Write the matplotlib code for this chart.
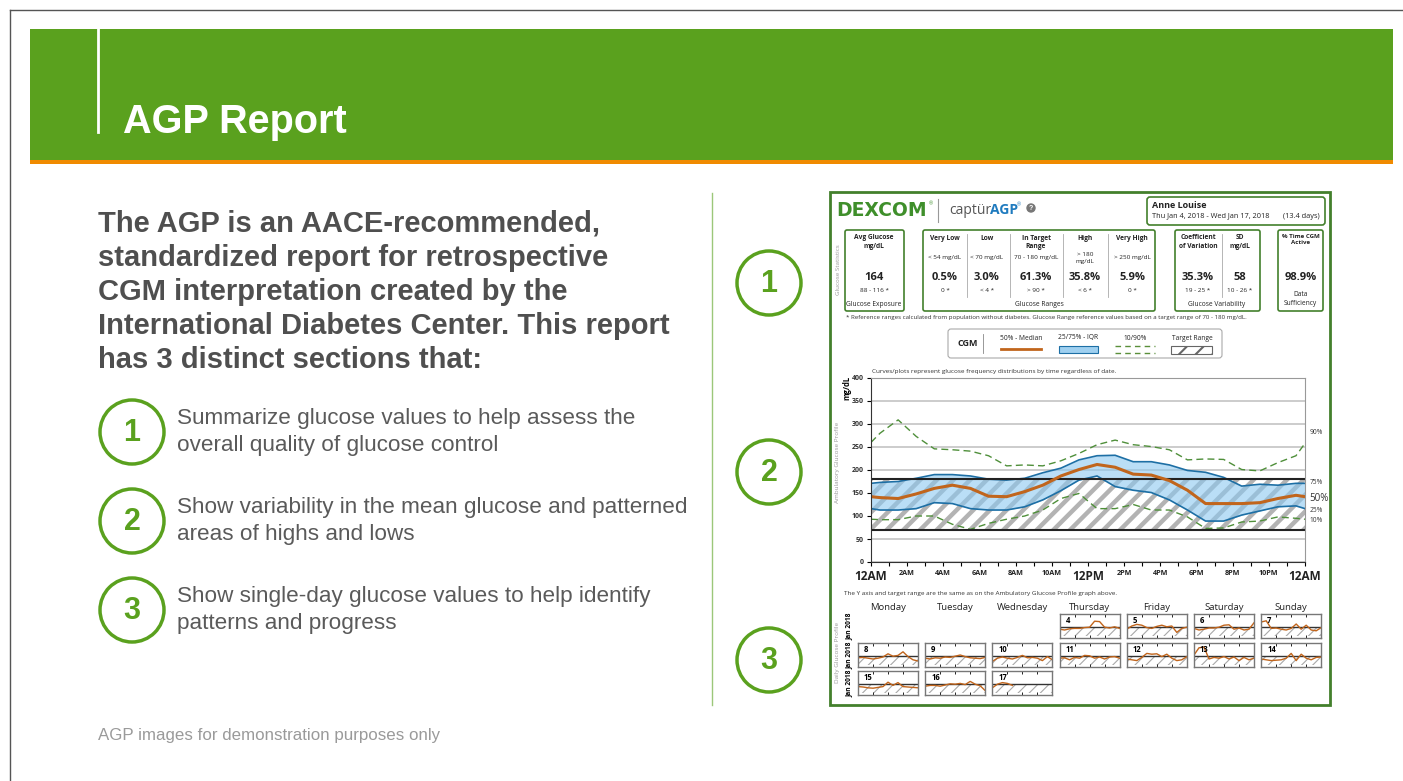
import matplotlib.pyplot as plt
from matplotlib.patches import Rectangle, Circle, FancyBboxPatch
import numpy as np

W, H = 1403, 781
plt.rcParams['hatch.linewidth'] = 3.0
plt.rcParams['font.family'] = ['Liberation Sans', 'DejaVu Sans']

GREEN = '#5aa11e'
DKGREEN = '#43802c'
ORANGE = '#c1651c'
BLUE = '#1d6fa5'
RPT = 'Open Sans'

# ---- data ----
hours = [0] + [h + 0.5 for h in range(24)] + [24]
p50 = [142, 140, 138, 148, 160, 167, 160, 143, 142, 153, 167, 187, 201,
       212, 206, 191, 189, 177, 156, 127, 127, 127, 129, 138, 145, 142]
p75 = [171, 173, 175, 182, 190, 190, 187, 180, 178, 182, 194, 204, 222,
       231, 232, 218, 218, 211, 199, 195, 184, 165, 169, 167, 171, 171]
p25 = [116, 113, 113, 116, 129, 127, 116, 113, 113, 120, 135, 155, 178,
       187, 164, 156, 151, 135, 113, 89, 89, 102, 111, 120, 122, 116]
p90 = [260, 280, 309, 273, 246, 244, 241, 231, 209, 211, 209, 220, 236,
       255, 265, 255, 251, 244, 222, 224, 223, 201, 198, 216, 231, 258]
p10 = [93, 92, 92, 100, 100, 82, 71, 84, 93, 100, 113, 138, 149,
       116, 116, 125, 113, 113, 98, 73, 74, 87, 89, 98, 95, 93]
target_low, target_high = 70, 180
pct_label_pos = {'90%': 282, '75%': 172, '50%': 138, '25%': 113, '10%': 91}

range_names = ['Very Low', 'Low', 'In Target\nRange', 'High', 'Very High']
range_limits = ['< 54 mg/dL', '< 70 mg/dL', '70 - 180 mg/dL', '> 180\nmg/dL', '> 250 mg/dL']
range_pcts = [0.5, 3.0, 61.3, 35.8, 5.9]
range_refs = ['0 *', '< 4 *', '> 90 *', '< 6 *', '0 *']
avg_glucose, avg_ref = 164, '88 - 116 *'
cv, cv_ref = 35.3, '19 - 25 *'
sd, sd_ref = 58, '10 - 26 *'
cgm_active = 98.9

weekdays = ['Monday', 'Tuesday', 'Wednesday', 'Thursday', 'Friday', 'Saturday', 'Sunday']
day_hours = list(range(0, 25, 2))
daily = {
    4: [150, 140, 155, 160, 160, 170, 175, 250, 245, 175, 165, 180, 160],
    5: [150, 190, 210, 200, 170, 160, 185, 200, 180, 190, 110, 160, 175],
    6: [160, 140, 150, 165, 165, 175, 200, 205, 150, 165, 140, 150, 230],
    7: [240, 255, 160, 165, 150, 140, 160, 215, 150, 200, 140, 130, 170],
    8: [155, 160, 150, 140, 150, 165, 205, 175, 185, 230, 170, 130, 115],
    9: [150, 140, 155, 150, 165, 160, 175, 190, 170, 155, 150, 145, 160],
    10: [110, 150, 165, 150, 140, 160, 185, 155, 160, 150, 120, 170, 130],
    11: [150, 155, 130, 160, 150, 185, 180, 150, 165, 140, 165, 170, 150],
    12: [140, 130, 120, 160, 210, 200, 205, 170, 200, 150, 120, 130, 170],
    13: [190, 280, 290, 140, 160, 150, 170, 140, 165, 120, 160, 130, 150],
    14: [140, 130, 120, 125, 130, 150, 210, 120, 200, 150, 130, 160, 165],
    15: [145, 140, 130, 125, 135, 145, 200, 160, 195, 145, 140, 135, 130],
    16: [150, 160, 160, 150, 165, 180, 175, 185, 170, 210, 175, 155, 95],
    17: [130, 175, 195, 185, 160],
}

para_lines = ["The AGP is an AACE-recommended,",
              "standardized report for retrospective",
              "CGM interpretation created by the",
              "International Diabetes Center. This report",
              "has 3 distinct sections that:"]
bullets = [["Summarize glucose values to help assess the", "overall quality of glucose control"],
           ["Show variability in the mean glucose and patterned", "areas of highs and lows"],
           ["Show single-day glucose values to help identify", "patterns and progress"]]


def frame(x0, y0, x1, y1):
    return [x0 / W, 1 - y1 / H, (x1 - x0) / W, (y1 - y0) / H]


fig = plt.figure(figsize=(W / 100, H / 100), dpi=100)
bg = fig.add_axes([0, 0, 1, 1])
bg.set_xlim(0, W)
bg.set_ylim(H, 0)
bg.axis('off')

# slide frame + banner
bg.plot([10, W], [10, 10], color='#555555', lw=1)
bg.plot([10, 10], [10, H], color='#555555', lw=1)
bg.add_patch(Rectangle((30, 29), 1363, 131, color=GREEN, lw=0))
bg.add_patch(Rectangle((30, 160), 1363, 4, color='#f08a00', lw=0))
bg.plot([98, 98], [29, 132], color='white', lw=2)
bg.text(123, 133, 'AGP Report', color='white', fontsize=28.5, weight='bold', va='baseline')

for i, line in enumerate(para_lines):
    bg.text(98, 232 + 34 * i, line, color='#4f4f4f', fontsize=21, weight='bold', va='baseline')

for i, (l1, l2) in enumerate(bullets):
    cy = 432 + 89 * i
    bg.add_patch(Circle((132, cy), 32, fill=False, ec=GREEN, lw=2.5))
    bg.text(132, cy + 1, str(i + 1), color=GREEN, fontsize=22, weight='bold', ha='center', va='center')
    bg.text(177, cy - 8, l1, color='#5a5a5a', fontsize=16.2, va='baseline')
    bg.text(177, cy + 19, l2, color='#5a5a5a', fontsize=16.2, va='baseline')

bg.text(98, 740, 'AGP images for demonstration purposes only', color='#9a9a9a', fontsize=12.2, va='baseline')
bg.plot([712, 712], [193, 705], color='#9cc77a', lw=1)
for i, cy in enumerate([283, 472, 660]):
    bg.add_patch(Circle((769, cy), 32, fill=False, ec=GREEN, lw=2.5))
    bg.text(769, cy + 1, str(i + 1), color=GREEN, fontsize=22, weight='bold', ha='center', va='center')

# ---- AGP report image ----
bg.add_patch(Rectangle((830, 192), 500, 513, fill=False, ec=DKGREEN, lw=2))
bg.text(836, 210, 'DEXCOM', color='#3f8f2b', fontsize=13.5, weight='heavy', va='center', family='DejaVu Sans')
bg.text(929, 204, '®', color='#3f8f2b', fontsize=4, va='center')
bg.plot([938, 938], [199, 222], color='#999999', lw=0.8)
bg.text(949, 210, 'captür', color='#555555', fontsize=10, va='center', family=RPT)
bg.text(990, 210, 'AGP', color='#1f7bbf', fontsize=10, weight='bold', va='center', family=RPT)
bg.text(1017, 205, '®', color='#1f7bbf', fontsize=4, va='center')
bg.add_patch(Circle((1031, 208), 4, color='#777777'))
bg.text(1031, 208.5, '?', color='white', fontsize=5, weight='bold', ha='center', va='center')

bg.add_patch(FancyBboxPatch((1147, 197), 178, 28, boxstyle='round,pad=0,rounding_size=3',
                            fill=False, ec=DKGREEN, lw=1.2))
bg.text(1152, 205, 'Anne Louise', fontsize=6.5, weight='bold', va='center', family=RPT, color='#222222')
bg.text(1152, 216, 'Thu Jan 4, 2018 - Wed Jan 17, 2018', fontsize=5.3, va='center', family=RPT, color='#222222')
bg.text(1320, 216, '(13.4 days)', fontsize=5.3, va='center', ha='right', family=RPT, color='#222222')

for x0, x1 in [(845, 904), (923, 1155), (1175, 1260), (1278, 1323)]:
    bg.add_patch(FancyBboxPatch((x0, 230), x1 - x0, 81, boxstyle='round,pad=0,rounding_size=2',
                                fill=False, ec=DKGREEN, lw=1.2))

txt = dict(family=RPT, color='#222222', ha='center')
bg.text(838, 270, 'Glucose Statistics', rotation=90, fontsize=4.5, color='#999999', ha='center', va='center', family=RPT)
bg.text(874, 234, 'Avg Glucose\nmg/dL', fontsize=4.8, weight='bold', va='top', linespacing=1.3, **txt)
bg.text(874, 277, str(avg_glucose), fontsize=8, weight='bold', va='center', **txt)
bg.text(874, 290, avg_ref, fontsize=4.6, va='center', **txt)
bg.text(874, 304, 'Glucose Exposure', fontsize=4.8, va='center', **txt)

col_x = [945, 987, 1036, 1085, 1132]
for cx, nm, lim, pc, rf in zip(col_x, range_names, range_limits, range_pcts, range_refs):
    bg.text(cx, 235, nm, fontsize=4.8, weight='bold', va='top', linespacing=1.3, **txt)
    bg.text(cx, 258, lim, fontsize=4.6, va='center', linespacing=1.3, **txt)
    bg.text(cx, 278, f'{pc:.1f}%', fontsize=8, weight='bold', va='center', **txt)
    bg.text(cx, 290, rf, fontsize=4.6, va='center', **txt)
for dx in [967, 1010, 1063, 1108]:
    bg.plot([dx, dx], [234, 297], color='#aaaaaa', lw=0.6)
bg.text(1039, 305, 'Glucose Ranges', fontsize=4.8, va='center', **txt)

bg.text(1198, 234, 'Coefficient\nof Variation', fontsize=4.8, weight='bold', va='top', linespacing=1.3, **txt)
bg.text(1240, 234, 'SD\nmg/dL', fontsize=4.8, weight='bold', va='top', linespacing=1.3, **txt)
bg.text(1198, 278, f'{cv:.1f}%', fontsize=8, weight='bold', va='center', **txt)
bg.text(1240, 278, str(sd), fontsize=8, weight='bold', va='center', **txt)
bg.text(1198, 290, cv_ref, fontsize=4.6, va='center', **txt)
bg.text(1240, 290, sd_ref, fontsize=4.6, va='center', **txt)
bg.plot([1222, 1222], [234, 297], color='#aaaaaa', lw=0.6)
bg.text(1217, 305, 'Glucose Variability', fontsize=4.8, va='center', **txt)

bg.text(1300.5, 234, '% Time CGM\nActive', fontsize=4.4, weight='bold', va='top', linespacing=1.3, **txt)
bg.text(1300.5, 278, f'{cgm_active:.1f}%', fontsize=8, weight='bold', va='center', **txt)
bg.text(1300.5, 299, 'Data\nSufficiency', fontsize=4.8, va='center', linespacing=1.3, **txt)

bg.text(846, 317, '* Reference ranges calculated from population without diabetes. Glucose Range reference values '
        'based on a target range of 70 - 180 mg/dL.', fontsize=4.4, va='center', family=RPT, color='#333333')

# legend box
bg.add_patch(FancyBboxPatch((948, 329), 274, 29, boxstyle='round,pad=0,rounding_size=3',
                            fill=False, ec='#aaaaaa', lw=0.8))
bg.text(957, 343, 'CGM', fontsize=6.5, weight='bold', va='center', family=RPT, color='#222222')
bg.plot([983, 983], [334, 353], color='#888888', lw=0.6)
for cx, lab in [(1021, '50% - Median'), (1078, '25/75% - IQR'), (1135, '10/90%'), (1192, 'Target Range')]:
    bg.text(cx, 338, lab, fontsize=4.8, va='center', **txt)
bg.plot([1001, 1041], [349, 349], color=ORANGE, lw=2)
bg.add_patch(Rectangle((1059, 346), 39, 7, fc='#9fd0f0', ec=BLUE, lw=0.8))
bg.plot([1115, 1155], [346, 346], color='#5a8f3a', lw=1, dashes=(4, 3))
bg.plot([1115, 1155], [353, 353], color='#5a8f3a', lw=1, dashes=(4, 3))
leg_t = Rectangle((1171, 346), 41, 8, fc='white', ec='#666666', hatch='//', lw=0.8)
bg.add_patch(leg_t)
if hasattr(leg_t, 'set_hatch_linewidth'):
    leg_t.set_hatch_linewidth(1.5)

bg.text(872, 371, 'Curves/plots represent glucose frequency distributions by time regardless of date.',
        fontsize=4.6, va='center', family=RPT, color='#333333')
bg.text(847, 388, 'mg/dL', rotation=90, fontsize=5.5, weight='bold', ha='center', va='center', family=RPT)
bg.text(838, 462, 'Ambulatory Glucose Profile', rotation=90, fontsize=4.6, color='#999999',
        ha='center', va='center', family=RPT)

# main AGP chart
ax = fig.add_axes(frame(871, 378, 1305, 562))
ax.set_xlim(0, 24)
ax.set_ylim(0, 400)
ax.set_axisbelow(True)
ax.yaxis.grid(True, color='#c4c4c4', lw=1.2)
tgt = ax.fill_between([0, 24], target_low, target_high, facecolor='white', edgecolor='#b3b3b3',
                      hatch='//', lw=0)
if hasattr(tgt, 'set_hatch_linewidth'):
    tgt.set_hatch_linewidth(3.2)
ax.fill_between(hours, p25, p75, color='#8cc8f0', alpha=0.6, lw=0)
ax.plot(hours, p75, color=BLUE, lw=1.2)
ax.plot(hours, p25, color=BLUE, lw=1.2)
ax.plot(hours, p90, color='#4f8f3a', lw=1, dashes=(5, 3))
ax.plot(hours, p10, color='#4f8f3a', lw=1, dashes=(5, 3))
ax.axhline(target_low, color='#222222', lw=1.5)
ax.axhline(target_high, color='#222222', lw=1.5)
ax.plot(hours, p50, color=ORANGE, lw=2.2)
for lab, v in pct_label_pos.items():
    ax.text(24.25, v, lab, fontsize=7 if lab == '50%' else 4.8, va='center', clip_on=False,
            family=RPT, color='#333333')

ax.set_yticks(range(0, 401, 50))
ax.set_yticklabels([str(v) for v in range(0, 401, 50)], fontsize=5, weight='bold', color='#333333', family=RPT)
xlabels = []
for h in range(25):
    if h % 2:
        xlabels.append('')
    elif h % 24 == 0:
        xlabels.append('12AM')
    elif h == 12:
        xlabels.append('12PM')
    else:
        xlabels.append(f'{h % 12}{"AM" if h < 12 else "PM"}')
ax.set_xticks(range(25))
ax.set_xticklabels(xlabels, weight='bold', family=RPT, color='#222222')
for t in ax.get_xticklabels():
    t.set_fontsize(8.5 if t.get_text() in ('12AM', '12PM') else 5.2)
ax.tick_params(length=3, width=0.8, pad=3)
ax.tick_params(axis='y', pad=2)
for s in ['top', 'right']:
    ax.spines[s].set_color('#999999')
for s in ['left', 'bottom']:
    ax.spines[s].set_color('#333333')

# daily glucose profile
bg.text(844, 594, 'The Y axis and target range are the same as on the Ambulatory Glucose Profile graph above.',
        fontsize=4.6, va='center', family=RPT, color='#333333')
for i, wd in enumerate(weekdays):
    bg.text(888 + 67.2 * i, 607, wd, fontsize=6.8, va='center', **txt)
bg.text(837, 652, 'Daily Glucose Profile', rotation=90, fontsize=4.6, color='#999999',
        ha='center', va='center', family=RPT)
row_top = [614, 643, 671]
for r in range(3):
    bg.text(849, row_top[r] + 12, 'Jan 2018', rotation=90, fontsize=4.8, weight='bold',
            ha='center', va='center', family=RPT)

for d, vals in daily.items():
    col = (d - 1) % 7
    row = (d - 4 + 3) // 7
    x0 = 858 + 67.2 * col
    y0 = row_top[row]
    a = fig.add_axes(frame(x0, y0, x0 + 60, y0 + 24))
    a.set_xlim(0, 24)
    a.set_ylim(40, 340)
    band = a.fill_between([0, 24], target_low, target_high, facecolor='white', edgecolor='#a8a8a8',
                          hatch='///', lw=0)
    if hasattr(band, 'set_hatch_linewidth'):
        band.set_hatch_linewidth(0.8)
    a.axhline(target_high, color='#333333', lw=1)
    a.plot(day_hours[:len(vals)], vals, color=ORANGE, lw=1)
    a.text(0.1, 0.92, str(d), transform=a.transAxes, fontsize=5.5, weight='bold', va='top', family=RPT)
    a.set_xticks([6, 12, 18])
    a.set_yticks([])
    a.tick_params(axis='x', direction='in', length=2, width=0.6, top=True, labelbottom=False)
    for s in a.spines.values():
        s.set_color('#777777')
        s.set_linewidth(1)

fig.savefig('out.png', dpi=100)
